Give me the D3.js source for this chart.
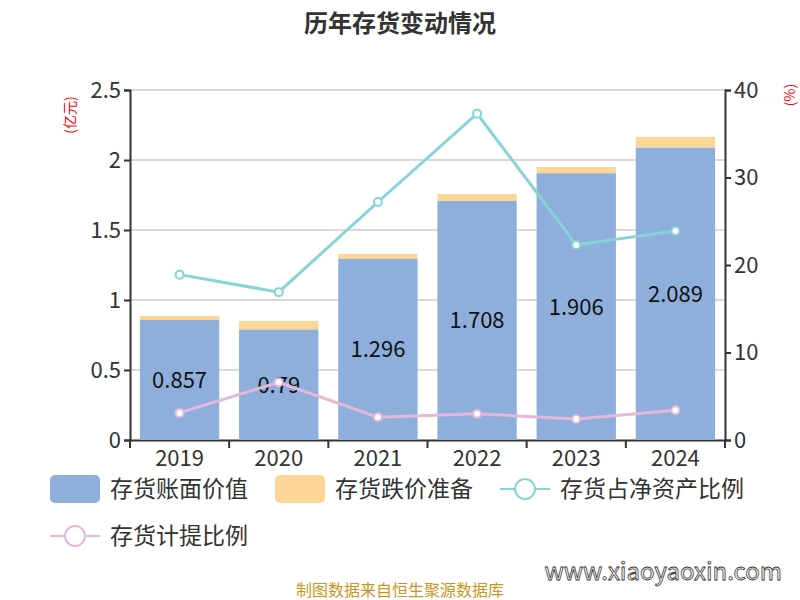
<!DOCTYPE html><html><head><meta charset="utf-8"><script src="https://cdn.jsdelivr.net/npm/d3@7"></script>
<style>body{margin:0}text{font-family:"Noto Sans CJK SC","Noto Sans",sans-serif}</style></head><body><svg width="800" height="600"></svg><script>
const years=["2019","2020","2021","2022","2023","2024"];
const bookValue=[0.857,0.79,1.296,1.708,1.906,2.089];
const provision=[0.029,0.06,0.033,0.049,0.044,0.075];
const ratioNet=[18.9,16.9,27.2,37.3,22.3,23.9];
const ratioProv=[3.1,6.6,2.6,3.0,2.4,3.4];
const leftTicks=[0,0.5,1,1.5,2,2.5];
const rightTicks=[0,10,20,30,40];
const svg=d3.select("svg");
const L=130,R=725,T=90,B=440;
const x=d3.scaleBand().domain(years).range([L,R]).paddingInner(0.2).paddingOuter(0.1);
const y=d3.scaleLinear().domain([0,2.5]).range([B,T]);
const y2=d3.scaleLinear().domain([0,40]).range([B,T]);
svg.append("text").attr("x",400).attr("y",32).attr("text-anchor","middle").attr("font-size",24).attr("font-weight","bold").attr("fill","#333").text("历年存货变动情况");
svg.append("g").selectAll("line").data(leftTicks.slice(1)).join("line").attr("x1",L).attr("x2",R).attr("y1",d=>y(d)).attr("y2",d=>y(d)).attr("stroke","#ccc").attr("stroke-width",1.5);
const gl=svg.append("g").attr("transform",`translate(${L},0)`).call(d3.axisLeft(y).tickValues(leftTicks).tickFormat(d=>d).tickSize(6));
const gr=svg.append("g").attr("transform",`translate(${R},0)`).call(d3.axisRight(y2).tickValues(rightTicks).tickSize(6));
const gx=svg.append("g").attr("transform",`translate(0,${B})`).call(d3.axisBottom(x).tickSize(0));
[gl,gr,gx].forEach(g=>{g.selectAll("path,line").attr("stroke","#333").attr("stroke-width",2);g.selectAll("text").attr("font-size",22).attr("fill","#333").attr("font-family","'Noto Sans',sans-serif")});
gx.selectAll("text").attr("dy","1.05em");
svg.append("g").selectAll("line").data(years.slice(0,5).map(d=>x(d)+x.bandwidth()+x.step()*0.1).concat([L,R])).join("line").attr("x1",d=>d).attr("x2",d=>d).attr("y1",B).attr("y2",B+8).attr("stroke","#333").attr("stroke-width",2);
svg.append("text").attr("transform","translate(75,115) rotate(-90)").attr("text-anchor","middle").attr("font-size",14).attr("fill","red").text("(亿元)");
svg.append("text").attr("transform","translate(795,95) rotate(-90)").attr("text-anchor","middle").attr("font-size",14).attr("fill","red").text("(%)");
const bars=svg.append("g");
bars.selectAll(".b").data(years).join("rect").attr("x",d=>x(d)).attr("width",x.bandwidth()).attr("y",(d,i)=>y(bookValue[i])).attr("height",(d,i)=>B-y(bookValue[i])).attr("fill","#8eaedb");
bars.selectAll(".p").data(years).join("rect").attr("class","p").attr("x",d=>x(d)).attr("width",x.bandwidth()).attr("y",(d,i)=>y(bookValue[i]+provision[i])).attr("height",(d,i)=>y(bookValue[i])-y(bookValue[i]+provision[i])).attr("fill","#fdd697");
svg.append("g").selectAll("text").data(years).join("text").attr("x",d=>x(d)+x.bandwidth()/2).attr("y",(d,i)=>y(bookValue[i]/2)+8).attr("text-anchor","middle").attr("font-size",22).attr("fill","#111").attr("font-family","'Noto Sans',sans-serif").text((d,i)=>bookValue[i]);
function line(data,color){const cx=d=>x(d)+x.bandwidth()/2;
svg.append("path").datum(years).attr("d",d3.line().x(cx).y((d,i)=>y2(data[i]))).attr("fill","none").attr("stroke",color).attr("stroke-width",3);
svg.append("g").selectAll("circle").data(years).join("circle").attr("cx",cx).attr("cy",(d,i)=>y2(data[i])).attr("r",4).attr("fill","#fff").attr("stroke",color).attr("stroke-width",2);}
line(ratioNet,"#86d4d6");line(ratioProv,"#e4b8da");
const lg=svg.append("g").attr("font-size",23).attr("fill","#333");
function sw(xp,yp,c,t){lg.append("rect").attr("x",xp).attr("y",yp-14).attr("width",50).attr("height",28).attr("rx",5).attr("fill",c);lg.append("text").attr("x",xp+60).attr("y",yp+8).attr("fill","#333").text(t);}
function ln(xp,yp,c,t){lg.append("line").attr("x1",xp).attr("x2",xp+50).attr("y1",yp).attr("y2",yp).attr("stroke",c).attr("stroke-width",2);lg.append("circle").attr("cx",xp+25).attr("cy",yp).attr("r",10).attr("fill","#fff").attr("stroke",c).attr("stroke-width",2);lg.append("text").attr("x",xp+60).attr("y",yp+8).attr("fill","#333").text(t);}
sw(50,489,"#8eaedb","存货账面价值");sw(275,489,"#fdd697","存货跌价准备");ln(500,489,"#86d4d6","存货占净资产比例");ln(50,536,"#e4b8da","存货计提比例");
svg.append("text").attr("x",782).attr("y",580).attr("text-anchor","end").attr("font-size",24).attr("font-family","'DejaVu Sans Mono',monospace").attr("fill","#fff").attr("stroke","#333").attr("stroke-width",0.8).text("www.xiaoyaoxin.com");
svg.append("text").attr("x",400).attr("y",596).attr("text-anchor","middle").attr("font-size",16).attr("fill","#c8961e").text("制图数据来自恒生聚源数据库");
</script></body></html>
